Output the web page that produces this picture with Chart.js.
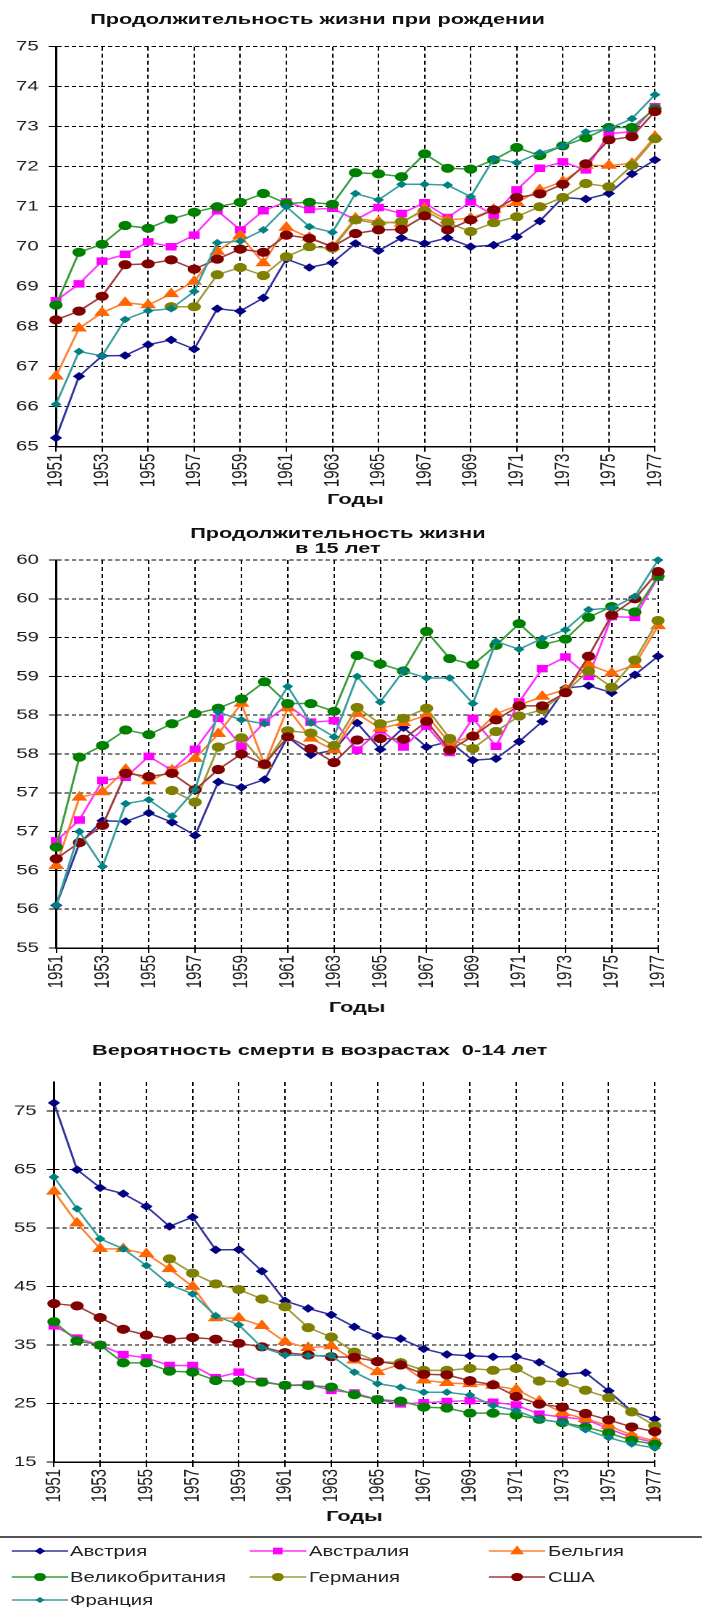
<!DOCTYPE html>
<html lang="ru">
<head>
<meta charset="utf-8">
<title>Продолжительность жизни</title>
<script src="https://cdn.jsdelivr.net/npm/chart.js@4.4.0/dist/chart.umd.min.js"></script>
<style>
  html, body { margin: 0; padding: 0; background: #fff; }
  body { width: 702px; height: 1607px; overflow: hidden; font-family: "Liberation Sans", Arial, sans-serif; color: #111; }
  /* вся картинка в оригинале растянута по горизонтали */
  #page { position: relative; width: 484px; height: 1607px; transform: scaleX(1.45); transform-origin: 0 0; }
  .box { position: absolute; left: 0; width: 484px; }
  .title { position: absolute; left: 0; font-weight: bold; font-size: 15px; line-height: 18px; text-align: center; white-space: pre; }
  #legend { position: absolute; left: 0; top: 1536px; width: 484px; height: 71px; border-top: 2px solid #555; }
  .item { position: absolute; height: 20px; display: flex; align-items: center; font-size: 14px; color: #222; white-space: nowrap; }
  .item svg { margin-right: 1.4px; }
</style>
</head>
<body>
<div id="page">
  <div class="title" style="top:10px; width:438px;">Продолжительность жизни при рождении</div>
  <div class="box" style="top:26px; height:486px;"><canvas id="chartBirth"></canvas></div>

  <div class="title" style="top:525px; width:466px; line-height:15px;">Продолжительность жизни<br>в 15 лет</div>
  <div class="box" style="top:540px; height:480px;"><canvas id="chart15"></canvas></div>

  <div class="title" style="top:1041px; width:441px;">Вероятность смерти в возрастах  0-14 лет</div>
  <div class="box" style="top:1062px; height:467px;"><canvas id="chartDeath"></canvas></div>

  <div id="legend"></div>
</div>

<script>
//годы по оси X
const years = ['1951','1952','1953','1954','1955','1956','1957','1958','1959','1960','1961','1962','1963','1964',
  '1965','1966','1967','1968','1969','1970','1971','1972','1973','1974','1975','1976','1977'];

const seriesNames = ['Австрия','Австралия','Бельгия','Великобритания','Германия','США','Франция'];

//продолжительность жизни при рождении
const birthAustria   = [65.22,66.76,67.27,67.28,67.55,67.67,67.44,68.45,68.39,68.72,69.69,69.48,69.60,70.08,69.90,70.22,70.08,70.22,70.00,70.04,70.25,70.64,71.23,71.19,71.33,71.82,72.17];
const birthAustralia = [68.65,69.07,69.64,69.81,70.12,70.00,70.29,70.90,70.42,70.90,71.12,70.93,70.96,70.67,70.98,70.83,71.10,70.73,71.12,70.79,71.42,71.96,72.12,71.92,72.83,72.87,73.50];
const birthBelgium   = [66.76,67.96,68.35,68.60,68.54,68.82,69.13,69.88,70.28,69.59,70.48,70.23,70.00,70.71,70.63,70.58,70.96,70.67,70.71,70.93,71.10,71.42,71.63,72.03,72.03,72.08,72.75];
const birthUK        = [68.54,69.86,70.06,70.53,70.46,70.69,70.86,71.00,71.11,71.33,71.08,71.11,71.06,71.85,71.82,71.75,72.32,71.96,71.94,72.17,72.48,72.28,72.52,72.72,72.98,72.98,73.45];
const birthGermany   = [null,null,null,null,null,68.50,68.50,69.30,69.48,69.28,69.75,70.00,69.96,70.67,70.58,70.63,70.90,70.60,70.38,70.60,70.75,71.00,71.23,71.58,71.50,72.03,72.70];
const birthUSA       = [68.17,68.39,68.76,69.55,69.57,69.67,69.44,69.69,69.94,69.86,70.29,70.21,70.00,70.33,70.42,70.43,70.77,70.42,70.67,70.92,71.23,71.32,71.56,72.07,72.67,72.75,73.38];
const birthFrance    = [66.06,67.38,67.27,68.18,68.40,68.45,68.88,70.10,70.14,70.42,71.00,70.50,70.36,71.33,71.17,71.56,71.56,71.54,71.25,72.20,72.10,72.35,72.52,72.87,72.95,73.20,73.80];

//продолжительность жизни в 15 лет
const age15Austria   = [55.55,56.35,56.64,56.63,56.74,56.62,56.45,57.14,57.07,57.17,57.72,57.49,57.55,57.90,57.56,57.84,57.59,57.66,57.42,57.44,57.66,57.92,58.35,58.38,58.29,58.52,58.76];
const age15Australia = [56.38,56.65,57.16,57.20,57.47,57.29,57.56,57.96,57.60,57.91,58.13,57.91,57.93,57.55,57.81,57.59,57.86,57.52,57.96,57.60,58.17,58.60,58.75,58.50,59.27,59.26,59.78];
const age15Belgium   = [56.06,56.94,57.01,57.30,57.15,57.29,57.44,57.76,58.15,57.36,58.09,57.70,57.55,58.02,57.83,57.90,58.00,57.64,57.73,58.02,58.13,58.24,58.33,58.65,58.54,58.65,59.15];
const age15UK        = [56.30,57.46,57.61,57.81,57.75,57.89,58.02,58.09,58.21,58.43,58.15,58.15,58.05,58.77,58.66,58.57,59.08,58.73,58.65,58.90,59.18,58.91,58.98,59.26,59.40,59.33,59.79];
const age15Germany   = [null,null,null,null,null,57.03,56.88,57.59,57.71,57.36,57.80,57.77,57.61,58.10,57.89,57.96,58.09,57.70,57.57,57.79,57.99,58.07,58.30,58.57,58.36,58.71,59.22];
const age15USA       = [56.15,56.36,56.58,57.25,57.21,57.25,57.04,57.30,57.50,57.37,57.72,57.57,57.39,57.68,57.70,57.69,57.92,57.55,57.73,57.94,58.12,58.12,58.29,58.76,59.29,59.50,59.85];
const age15France    = [55.55,56.50,56.05,56.86,56.91,56.70,57.04,58.04,57.94,57.89,58.37,57.90,57.72,58.50,58.17,58.57,58.48,58.48,58.15,58.95,58.85,58.99,59.10,59.36,59.38,59.53,60.00];

//вероятность смерти в возрастах 0-14 лет
const deathAustria   = [76.43,65.00,61.91,60.89,58.71,55.29,56.89,51.29,51.33,47.63,42.55,41.27,40.18,38.12,36.55,36.09,34.35,33.40,33.17,33.00,33.03,32.06,30.00,30.28,27.16,23.64,22.33];
const deathAustralia = [38.28,36.19,35.00,33.36,32.80,31.50,31.50,29.41,30.37,28.79,28.11,28.28,27.26,26.81,25.68,24.95,25.14,25.34,25.50,25.22,24.75,23.19,22.68,22.30,20.70,19.22,18.34];
const deathBelgium   = [61.29,55.86,51.46,51.46,50.60,48.03,45.00,39.63,39.62,38.30,35.57,34.54,34.83,32.40,30.40,31.78,28.97,28.54,28.35,28.10,27.40,25.40,23.40,22.40,21.20,19.60,18.60];
const deathUK        = [39.00,35.73,35.00,31.95,31.95,30.54,30.37,28.95,28.79,28.67,28.11,28.11,27.82,26.53,25.68,25.42,24.38,24.24,23.36,23.36,23.05,22.30,21.74,20.98,19.96,18.70,18.03];
const deathGermany   = [null,null,null,null,null,49.74,47.29,45.46,44.50,42.88,41.56,37.99,36.38,33.80,32.18,31.99,30.68,30.68,31.02,30.68,31.02,28.86,28.69,27.27,26.02,23.58,21.19];
const deathUSA       = [42.10,41.70,39.70,37.70,36.70,36.00,36.30,36.00,35.30,34.70,33.70,33.30,33.00,32.90,32.20,31.60,30.00,29.90,28.90,28.20,26.20,24.90,24.40,23.30,22.20,21.00,20.20];
const deathFrance    = [63.74,58.31,53.17,51.46,48.60,45.34,43.74,40.00,38.45,34.60,33.30,33.19,33.19,30.37,28.40,27.78,26.93,26.93,26.45,24.66,23.80,22.30,21.74,20.52,19.16,18.09,17.38];

//деления оси Y
const birthTicks  = [65,66,67,68,69,70,71,72,73,74,75];
const birthLabels = ['65','66','67','68','69','70','71','72','73','74','75'];
const age15Ticks  = [55,55.5,56,56.5,57,57.5,58,58.5,59,59.5,60];
const age15Labels = ['55','56','56','57','57','58','58','59','59','60','60'];
const deathTicks  = [15,25,35,45,55,65,75];
const deathLabels = ['15','25','35','45','55','65','75'];

//оформление рядов
const lineColors   = ['#34349c','#ff33ff','#ff8030','#3a9c3a','#9c9c3a','#a03c3c','#3a9e9e'];
const markerColors = ['#000080','#ff00ff','#ff6600','#008000','#808000','#800000','#008080'];
const markerShapes = ['rectRot','rect','triangle','circle','circle','circle','rectRot'];
const markerSizes  = [3.6, 4.6, 5.4, 4.1, 4.1, 4.1, 3.1];

Chart.defaults.font.family = '"Liberation Sans", Arial, sans-serif';
Chart.defaults.color = '#111';

function buildDatasets(rows) {
  return rows.map((values, i) => ({
    label: seriesNames[i],
    data: values,
    borderColor: lineColors[i],
    borderWidth: 1.5,
    backgroundColor: markerColors[i],
    pointStyle: markerShapes[i],
    pointRadius: markerSizes[i],
    pointBackgroundColor: markerColors[i],
    pointBorderColor: markerColors[i],
    pointBorderWidth: 1,
    tension: 0,
    fill: false,
    clip: false,
    order: rows.length - 1 - i   //последний ряд рисуется сверху, как в Excel
  }));
}

//hàm-style: один график
function drawChart(id, rows, yMin, yMax, yTicks, yLabels, lay) {
  const ctx = document.getElementById(id).getContext('2d');
  return new Chart(ctx, {
    type: 'line',
    data: { labels: years, datasets: buildDatasets(rows) },
    options: {
      responsive: true,
      maintainAspectRatio: false,
      animation: false,
      devicePixelRatio: 2,
      layout: { padding: { top: lay.top, right: lay.right, left: 0, bottom: 0 } },
      plugins: { legend: { display: false }, tooltip: { enabled: false } },
      scales: {
        x: {
          offset: false,
          afterBuildTicks: s => { s.ticks = s.ticks.filter(t => t.value % 2 === 0); },
          afterFit: s => { s.height = lay.xh; },
          ticks: { autoSkip: false, minRotation: 90, maxRotation: 90, padding: 2, color: '#1a1a1a', font: { size: 15 } },
          grid: { color: '#000', lineWidth: 1, tickLength: 5 },
          border: { display: true, color: '#000', width: 1.5, dash: [4, 3] },
          title: { display: true, text: 'Годы', color: '#111', font: { size: 15, weight: 'bold' }, padding: { top: 0, bottom: 3 } }
        },
        y: {
          min: yMin,
          max: yMax,
          afterBuildTicks: s => { s.ticks = yTicks.map(v => ({ value: v })); },
          afterFit: s => { s.width = lay.yw; },
          ticks: { autoSkip: false, callback: (v, i) => yLabels[i], padding: 7, color: '#1a1a1a', font: { size: 14 } },
          grid: { color: '#000', lineWidth: 1, tickLength: 5 },
          border: { display: true, color: '#000', width: 1.5, dash: [3, 2] }
        }
      }
    }
  });
}

drawChart('chartBirth',
  [birthAustria, birthAustralia, birthBelgium, birthUK, birthGermany, birthUSA, birthFrance],
  65, 75, birthTicks, birthLabels, { top: 20.7, right: 32.3, yw: 38.6, xh: 65.3 });

drawChart('chart15',
  [age15Austria, age15Australia, age15Belgium, age15UK, age15Germany, age15USA, age15France],
  55, 60, age15Ticks, age15Labels, { top: 20, right: 30.2, yw: 38.8, xh: 72 });

drawChart('chartDeath',
  [deathAustria, deathAustralia, deathBelgium, deathUK, deathGermany, deathUSA, deathFrance],
  15, 80, deathTicks, deathLabels, { top: 20, right: 32.4, yw: 37.2, xh: 67 });

//легенда внизу, три колонки
function markerSvg(i) {
  const c = markerColors[i];
  const r = markerSizes[i];
  let shape = '';
  if (markerShapes[i] === 'circle') {
    shape = `<circle cx="19.6" cy="7" r="${r}" fill="${c}"/>`;
  } else if (markerShapes[i] === 'rect') {
    const a = r * 0.72;
    shape = `<rect x="${19.6 - a}" y="${7 - a}" width="${2 * a}" height="${2 * a}" fill="${c}"/>`;
  } else if (markerShapes[i] === 'triangle') {
    shape = `<polygon points="19.6,${7 - r} ${19.6 + r * 0.9},${7 + r * 0.6} ${19.6 - r * 0.9},${7 + r * 0.6}" fill="${c}"/>`;
  } else {
    shape = `<polygon points="19.6,${7 - r} ${19.6 + r},7 19.6,${7 + r} ${19.6 - r},7" fill="${c}"/>`;
  }
  return `<svg width="39.3" height="14" viewBox="0 0 39.3 14"><line x1="0" y1="7" x2="39.3" y2="7" stroke="${lineColors[i]}" stroke-width="1.5"/>${shape}</svg>`;
}

const legendCols = [7.6, 172.4, 337.2];
const legendRows = [3, 29, 52];
const legendBox = document.getElementById('legend');
seriesNames.forEach((name, i) => {
  const item = document.createElement('div');
  item.className = 'item';
  item.style.left = legendCols[i % 3] + 'px';
  item.style.top = legendRows[Math.floor(i / 3)] + 'px';
  item.innerHTML = markerSvg(i) + '<span>' + name + '</span>';
  legendBox.appendChild(item);
});
</script>
</body>
</html>
